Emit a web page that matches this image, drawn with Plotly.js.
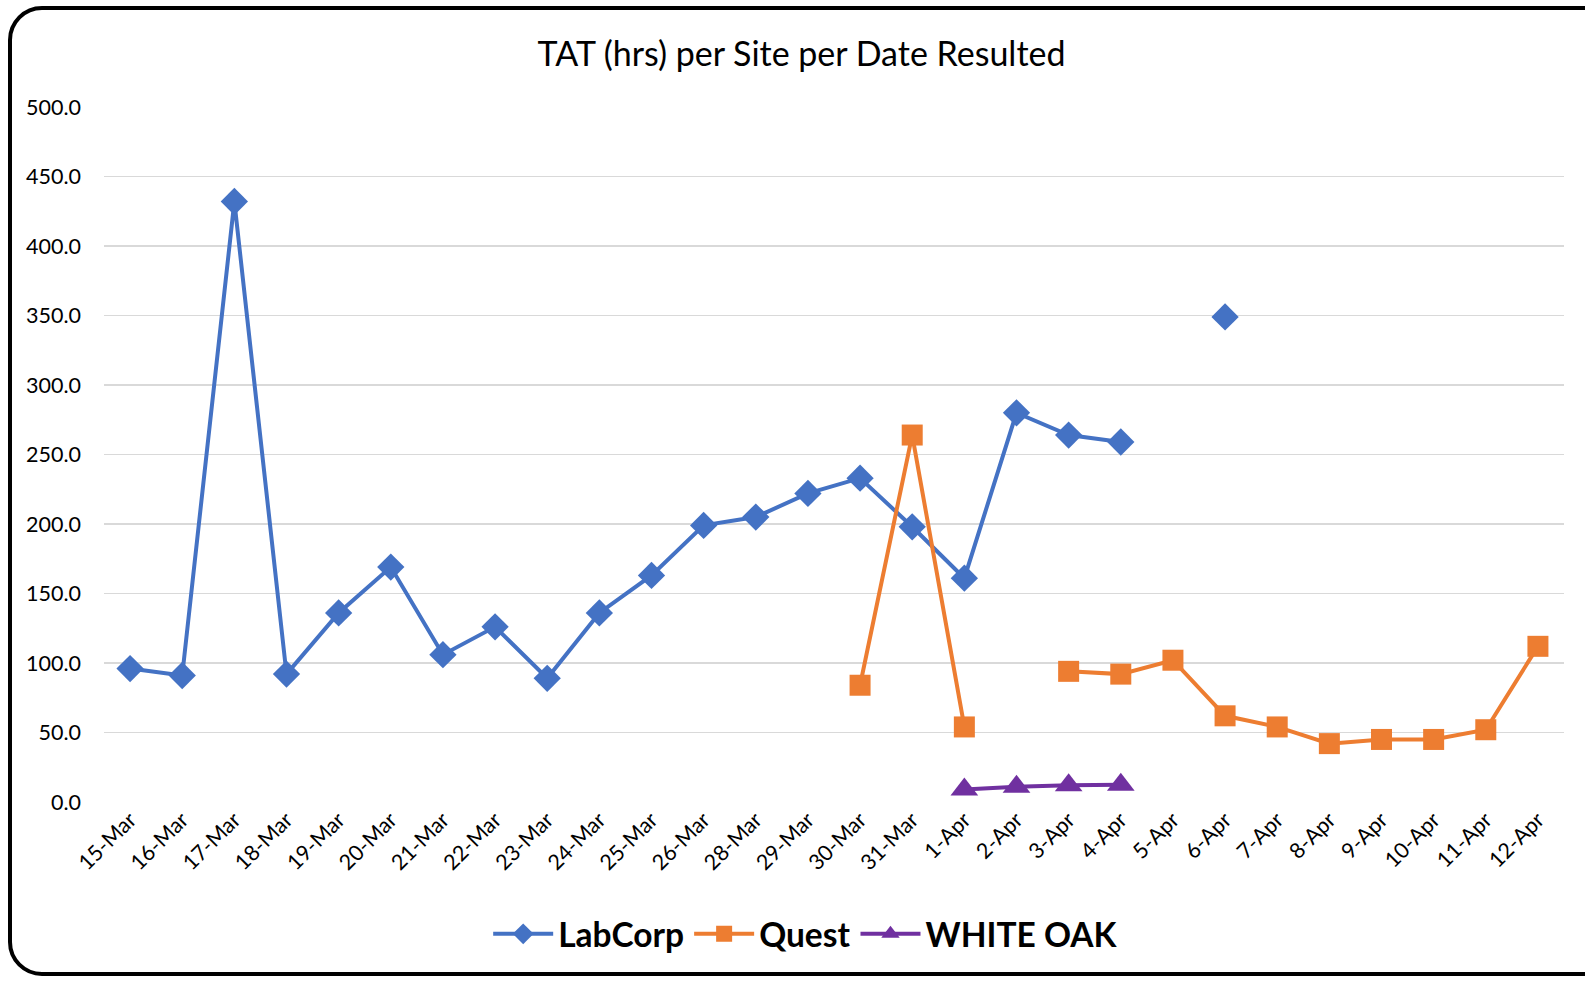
<!DOCTYPE html>
<html>
<head>
<meta charset="utf-8">
<script src="https://cdn.plot.ly/plotly-3.0.1.min.js"></script>
<style>
html,body{margin:0;padding:0;background:#fff;overflow:hidden;}
#frame{position:absolute;left:8px;top:6px;width:1620px;height:970px;border:4px solid #000;border-radius:34px;box-sizing:border-box;}
#chart{position:absolute;left:0;top:0;width:1585px;height:981px;}
</style>
</head>
<body>
<div id="chart"></div>
<div id="frame"></div>
<script>
const dates = ["15-Mar","16-Mar","17-Mar","18-Mar","19-Mar","20-Mar","21-Mar","22-Mar","23-Mar","24-Mar","25-Mar","26-Mar","28-Mar","29-Mar","30-Mar","31-Mar","1-Apr","2-Apr","3-Apr","4-Apr","5-Apr","6-Apr","7-Apr","8-Apr","9-Apr","10-Apr","11-Apr","12-Apr"];
const labcorp = [96,91,432,92,136,169,106,126,89,136,163,199,205,222,233,198,161,280,264,259,null,349,null,null,null,null,null,null];
const quest = [null,null,null,null,null,null,null,null,null,null,null,null,null,null,84,264,54,null,94,92,102,62,54,42,45,45,52,112];
const whiteOak = [null,null,null,null,null,null,null,null,null,null,null,null,null,null,null,null,9,11,12,12.5,null,null,null,null,null,null,null,null];
const yTicks = [0,50,100,150,200,250,300,350,400,450,500];

const FONT = "Lato, 'Open Sans', sans-serif";
const traces = [
  {name:"LabCorp", x:dates, y:labcorp, type:"scatter", mode:"lines+markers",
   line:{color:"#4472C4", width:4}, marker:{symbol:"diamond", size:21, color:"#4472C4"}},
  {name:"Quest", x:dates, y:quest, type:"scatter", mode:"lines+markers",
   line:{color:"#ED7D31", width:4}, marker:{symbol:"square", size:21, color:"#ED7D31"}},
  {name:"WHITE OAK", x:dates, y:whiteOak, type:"scatter", mode:"lines+markers",
   line:{color:"#7030A0", width:4}, marker:{symbol:"triangle-up", size:24, color:"#7030A0"}}
];
const layout = {
  width:1585, height:981,
  margin:{l:104, r:21, t:107, b:179},
  paper_bgcolor:"rgba(0,0,0,0)", plot_bgcolor:"#fff",
  font:{family:FONT, color:"#000"},
  title:{text:"TAT (hrs) per Site per Date Resulted", font:{size:34, family:FONT, color:"#000"}, x:0.5057, xanchor:"center", y:0.945, yanchor:"middle"},
  showlegend:true,
  legend:{orientation:"h", x:0.4806, xanchor:"center", y:-0.19, yanchor:"middle",
    font:{size:33.5, family:FONT, color:"#000", weight:"bold"}, itemwidth:60, tracegroupgap:0},
  xaxis:{type:"category", categoryorder:"array", categoryarray:dates, range:[-0.5,27.5],
    tickangle:-45, tickfont:{size:21.5, family:FONT}, showgrid:false, showline:false, zeroline:false, ticks:"", automargin:false},
  yaxis:{range:[0,500], tickvals:yTicks, ticktext:yTicks.map(v=>v.toFixed(1)), tickfont:{size:21.5, family:FONT},
    gridcolor:"#D9D9D9", gridwidth:1.5, zeroline:false, showline:false, ticks:"", ticklabelstandoff:22, automargin:false}
};
Plotly.newPlot("chart", traces, layout, {displayModeBar:false, staticPlot:true});
</script>
</body>
</html>
